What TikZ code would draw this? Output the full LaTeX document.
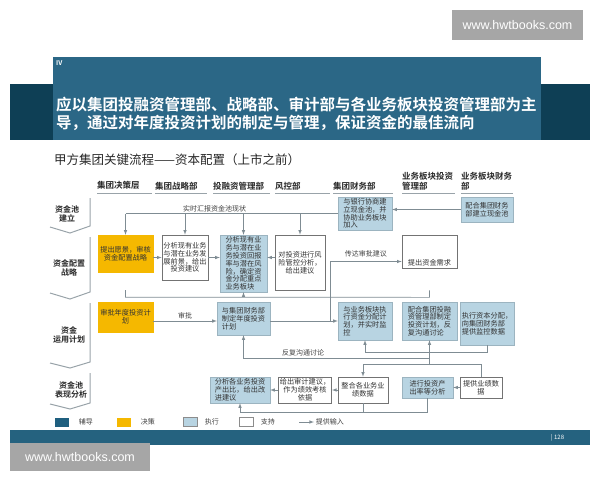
\documentclass[tikz,border=0pt]{standalone}
\usepackage{fontspec}
\setmainfont{Noto Sans CJK SC}[BoldFont={Noto Sans CJK SC Bold}]
\newfontfamily\wmfont{Liberation Sans}
\usepackage{tikz}
\usetikzlibrary{calc}
\usetikzlibrary{positioning}
\usetikzlibrary{arrows}

\definecolor{bandDark}{HTML}{0E3F55}
\definecolor{bandLight}{HTML}{2B6786}
\definecolor{bandFoot}{HTML}{25627F}
\definecolor{execBlue}{HTML}{B8D4E2}
\definecolor{decYellow}{HTML}{F5B800}
\definecolor{lineGray}{HTML}{7F8C93}
\definecolor{wmGray}{HTML}{A6A6A6}
\definecolor{guideBlue}{HTML}{1F5F7F}

\begin{document}
\begin{tikzpicture}[x=1pt,y=-1pt,>=latex,
	box/.style={inner sep=1.5pt, font=\fontsize{7.2}{7.8}\selectfont, text=black!80},
	execbox/.style={box, fill=execBlue, draw=execBlue!85!black, align=left},
	decbox/.style={box, fill=decYellow, draw=decYellow, align=center},
	supbox/.style={box, fill=white, draw=black!55, line width=0.6pt, align=center},
	head/.style={inner sep=0pt, anchor=south west, align=left, font=\bfseries\fontsize{8.5}{9.5}\selectfont, text=black!85},
	hline/.style={draw=lineGray!80, line width=1pt},
	stagetxt/.style={align=center, font=\bfseries\fontsize{8}{9.5}\selectfont, text=black!85},
	stageline/.style={draw=lineGray!80, line width=1pt},
	flow/.style={draw=lineGray, line width=0.6pt},
	lbl/.style={font=\fontsize{7}{8}\selectfont, text=black!75, inner sep=1.5pt},
	legsq/.style={minimum width=14pt, minimum height=9pt, inner sep=0pt},
	wm/.style={text=white, font=\wmfont\fontsize{12.5}{14}\selectfont},
	]

	\useasboundingbox (0,0) rectangle (600,480);

	% title band
	\fill[bandDark] (10,84) rectangle (590,140);
	\fill[bandLight] (53,57) rectangle (541,140);
	\node[anchor=north west, text=white, font=\bfseries\fontsize{6.5}{7}\selectfont, inner sep=0pt] (sec) at (56,60) {IV};
	\node[anchor=west, text=white, align=left, inner sep=0pt, font=\bfseries\fontsize{15.5}{18.5}\selectfont] (headline) at (56,114) {应以集团投融资管理部、战略部、审计部与各业务板块投资管理部为主\\导，通过对年度投资计划的制定与管理，保证资金的最佳流向};
	\node[anchor=west, inner sep=0pt, font=\fontsize{12.5}{14}\selectfont, text=black!85] (ptitle) at (54,160) {甲方集团关键流程——资本配置（上市之前）};

	% column heads
	\node[head, text width=55pt] (h1) at (97,190) {集团决策层};
	\node[head, text width=52pt] (h2) at (155,190) {集团战略部};
	\node[head, text width=57pt] (h3) at (213,190) {投融资管理部};
	\node[head, text width=55pt] (h4) at (275,190) {风控部};
	\node[head, text width=60pt] (h5) at (333,190) {集团财务部};
	\node[head, text width=53pt] (h6) at (402,190) {业务板块投资\\管理部};
	\node[head, text width=52pt] (h7) at (461,190) {业务板块财务\\部};
	\foreach \h in {h1,h2,h3,h4,h5,h6,h7}
		\draw[hline] ([yshift=-3pt]\h.south west) -- ([yshift=-3pt]\h.south east);

	% stages
	\node[stagetxt] (st1) at (67,214) {资金池\\建立};
	\node[stagetxt] (st2) at (69,268) {资金配置\\战略};
	\node[stagetxt] (st3) at (69,335) {资金\\运用计划};
	\node[stagetxt] (st4) at (71,390) {资金池\\表现分析};
	\draw[stageline] (90,198) -- (90,226) -- (70,233) -- (50,227);
	\draw[stageline] (90,237) -- (90,292) -- (70,299) -- (50,293);
	\draw[stageline] (90,303) -- (90,362) -- (70,368) -- (50,363);
	\draw[stageline] (90,373) -- (90,403) -- (70,409) -- (50,404);

	% row 1
	\node[execbox, minimum width=54pt, minimum height=33pt] (bank) at (365,213.5) {与银行协商建\\立现金池，并\\协助业务板块\\加入};
	\node[execbox, minimum width=52pt, minimum height=25pt] (bizpool) at (487,209.5) {配合集团财务\\部建立现金池};

	% row 2
	\node[decbox, minimum width=55pt, minimum height=37pt] (vision) at (125.5,253.5) {提出愿景，审核\\资金配置战略};
	\node[supbox, minimum width=46pt, minimum height=45pt] (stratan) at (185,257.5) {分析现有业务\\与潜在业务发\\展前景，给出\\投资建议};
	\node[execbox, minimum width=47pt, minimum height=57pt] (invest) at (243.5,263.5) {分析现有业\\务与潜在业\\务投资回报\\率与潜在风\\险，确定资\\金分配重点\\业务板块};
	\node[supbox, minimum width=50pt, minimum height=55pt] (risk) at (300,262.5) {对投资进行风\\险管控分析，\\给出建议};
	\node[supbox, minimum width=55pt, minimum height=33pt, label={[box, anchor=south, yshift=1pt]south:提出资金需求}] (demand) at (429.5,251.5) {};

	% row 3
	\node[decbox, minimum width=55pt, minimum height=30pt] (approve) at (125.5,317) {审批年度投资计\\划};
	\node[execbox, minimum width=53pt, minimum height=33pt] (annual) at (243.5,318.5) {与集团财务部\\制定年度投资\\计划};
	\node[execbox, minimum width=54pt, minimum height=38pt] (monitor) at (365,321) {与业务板块执\\行资金分配计\\划，并实时监\\控};
	\node[execbox, minimum width=55pt, minimum height=38pt] (coord) at (429.5,321) {配合集团投融\\资管理部制定\\投资计划，反\\复沟通讨论};
	\node[execbox, minimum width=52pt, minimum height=43pt] (exec) at (487,323.5) {执行资本分配，\\向集团财务部\\提供监控数据};

	% row 4
	\node[execbox, minimum width=60pt, minimum height=26pt] (ratio) at (240,390) {分析各业务投资\\产出比，给出改\\进建议};
	\node[supbox, minimum width=50pt, minimum height=26pt] (audit) at (305,390) {给出审计建议，\\作为绩效考核\\依据};
	\node[supbox, minimum width=50pt, minimum height=26pt] (merge) at (363,390) {整合各业务业\\绩数据};
	\node[execbox, minimum width=51pt, minimum height=21pt] (output) at (427.5,387.5) {进行投资产\\出率等分析};
	\node[supbox, minimum width=42pt, minimum height=21pt] (perf) at (481,387.5) {提供业绩数\\据};

	% connectors, row 1
	\draw[flow,->] (bizpool.west) -- (bizpool.west -| bank.east);
	\draw[flow] (bank.west) -- (bank.west -| vision.north) node[lbl, pos=0.58, above] {实时汇报资金池现状};
	\foreach \n in {vision,stratan,invest,risk}
		\draw[flow,->] (\n.north |- bank.west) -- (\n.north);

	% connectors, row 2
	\draw[flow,->] (vision.east |- stratan) -- (stratan.west);
	\draw[flow,->] (stratan.east) -- (stratan.east -| invest.west);
	\draw[flow,->] (risk.west |- stratan) -- (invest.east |- stratan);
	\coordinate (fbL) at ($(vision.south)+(0,25)$);
	\coordinate (fbR) at ($(demand.south)+(0,29)$);
	\draw[flow] ($(fbL)+(0,-7)$) -- (fbL) -- (fbR) -- ($(fbR)+(0,-7)$);
	\draw[flow,->] (invest.south |- fbL) -- (invest.south);

	% connectors, row 3
	\draw[flow,->] (approve.east |- monitor) -- (annual.west |- monitor) node[lbl, midway, above] {审批};
	\draw[flow,->] (annual.east |- monitor) -- (monitor.west);
	\coordinate (txc) at (330,321);
	\draw[flow,->] (txc) |- ([yshift=-10pt]demand.west) node[lbl, pos=0.75, above=3pt] {传达审批建议};
	\draw[flow,->] (exec.south) |- ($(monitor.south)+(0,12)$) -- (monitor.south);
	\draw[flow,->] ($(coord.south)+(0,25)$) -- (coord.south);
	\draw[flow,->] ($(coord.south)+(0,18)$) -| (annual.south) node[lbl, pos=0.34, above] {反复沟通讨论};
	\draw[flow,->] (perf.north) |- ($(merge.north)+(0,-12)$) -- (merge.north);

	% connectors, row 4
	\draw[flow,->] (audit) -- (ratio);
	\draw[flow,->] (merge) -- (audit);
	\draw[flow,->] (perf) -- (output);
	\draw[flow] (merge.south) -- ++(0,9) -| (output.south);
	\draw[flow,->] ($(merge.south)+(0,9)$) -| (ratio.south);

	% legend
	\node[legsq, fill=guideBlue] (lg1) at (62,422) {};
	\node[lbl, right=8pt of lg1] (lt1) {辅导};
	\node[legsq, fill=decYellow] (lg2) at (124,422) {};
	\node[lbl, right=8pt of lg2] (lt2) {决策};
	\node[legsq, fill=execBlue, draw=black!45] (lg3) at (190,422) {};
	\node[lbl, right=6pt of lg3] (lt3) {执行};
	\node[legsq, fill=white, draw=black!45] (lg4) at (246,422) {};
	\node[lbl, right=6pt of lg4] (lt4) {支持};
	\coordinate (lga) at (299,422);
	\draw[flow,->] (lga) -- ++(15,0) node[lbl, right] (lt5) {提供输入};

	% footer
	\fill[bandFoot] (10,430) rectangle (590,445);
	\node[anchor=west, text=white, inner sep=0pt, font=\fontsize{6}{7}\selectfont] (page) at (551,437.5) {|\ 128};

	% watermarks
	\fill[wmGray] (452,10) rectangle (583,40);
	\node[wm] (wm1) at (517.5,25) {www.hwtbooks.com};
	\fill[wmGray] (10,443) rectangle (150,471);
	\node[wm] (wm2) at (80,457) {www.hwtbooks.com};

\end{tikzpicture}
\end{document}
